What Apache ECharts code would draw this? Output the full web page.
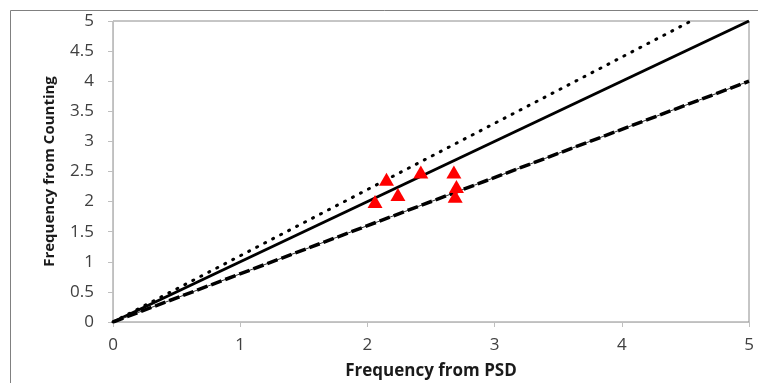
<!DOCTYPE html>
<html><head><meta charset="utf-8">
<script src="https://cdn.jsdelivr.net/npm/echarts@6/dist/echarts.min.js"></script>
<style>html,body{margin:0;padding:0;background:#fff}#c{width:758px;height:383px}</style>
</head><body><div id="c"></div>
<script>
var psd = [2.06, 2.15, 2.24, 2.42, 2.68, 2.70, 2.69];
var counting = [2.00, 2.37, 2.12, 2.49, 2.49, 2.25, 2.09];
var lineOneX = [0, 5], lineOneY = [0, 5];
var lineUpperX = [0, 4.545], lineUpperY = [0, 5];
var lineLowerX = [0, 5], lineLowerY = [0, 4];

function pairs(xs, ys) { return xs.map(function (x, i) { return [x, ys[i]]; }); }

var chart = echarts.init(document.getElementById('c'));
var font = '"Open Sans", "Liberation Sans", sans-serif';
chart.setOption({
  animation: false,
  backgroundColor: '#fff',
  graphic: [{ type: 'rect', shape: { x: 10.5, y: 10.5, width: 760, height: 400 }, style: { fill: 'none', stroke: '#808080', lineWidth: 1 }, silent: true }],
  grid: { left: 113, right: 9, top: 21, bottom: 61, containLabel: false, outerBoundsMode: 'none', show: true, borderColor: '#8c8c8c', borderWidth: 1, backgroundColor: 'transparent' },
  xAxis: {
    type: 'value', min: 0, max: 5, interval: 1,
    name: 'Frequency from PSD', nameLocation: 'middle', nameGap: 41,
    nameTextStyle: { fontFamily: font, fontWeight: 'bold', fontSize: 17, color: '#1a1a1a' },
    axisLine: { lineStyle: { color: '#bfbfbf', width: 1 } },
    axisTick: { show: true, length: 5, lineStyle: { color: '#bfbfbf' } },
    axisLabel: { fontFamily: font, fontSize: 17, color: '#404040', margin: 15 },
    splitLine: { show: false }
  },
  yAxis: {
    type: 'value', min: 0, max: 5, interval: 0.5,
    name: 'Frequency from Counting', nameLocation: 'middle', nameGap: 56,
    nameTextStyle: { fontFamily: font, fontWeight: 'bold', fontSize: 15, color: '#1a1a1a' },
    axisLine: { show: true, lineStyle: { color: '#bfbfbf', width: 1 } },
    axisTick: { show: true, length: 5, lineStyle: { color: '#bfbfbf' } },
    axisLabel: { fontFamily: font, fontSize: 17, color: '#404040', margin: 19 },
    splitLine: { show: false }
  },
  series: [
    { type: 'line', data: pairs(lineUpperX, lineUpperY), symbol: 'none', lineStyle: { color: '#000', width: 3, type: [1, 8], cap: 'round' } },
    { type: 'line', data: pairs(lineOneX, lineOneY), symbol: 'none', lineStyle: { color: '#000', width: 3 } },
    { type: 'line', data: pairs(lineLowerX, lineLowerY), symbol: 'none', lineStyle: { color: '#333', width: 1 } },
    { type: 'line', data: pairs(lineLowerX, lineLowerY), symbol: 'none', lineStyle: { color: '#000', width: 3.5, type: [11, 4] } },
    { type: 'scatter', data: pairs(psd, counting), symbol: 'triangle', symbolSize: [15, 13], itemStyle: { color: '#ff0000', opacity: 1 }, z: 5 }
  ]
});
</script></body></html>
